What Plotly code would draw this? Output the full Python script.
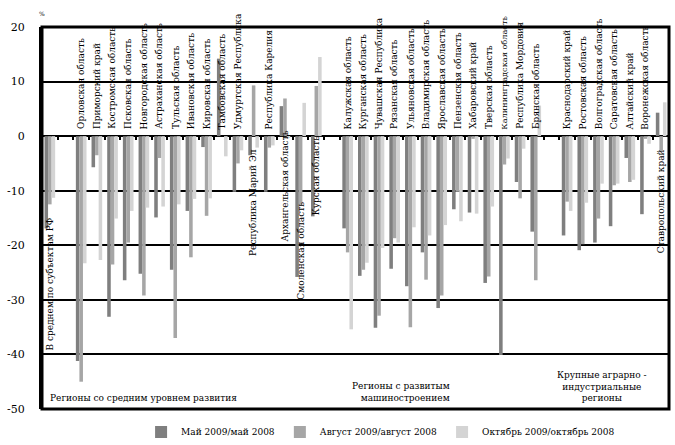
import plotly.graph_objects as go

# ---- data ----
categories = [
    "В среднем по субъектам РФ", " ",
    "Орловская область", "Приморский край", "Костромская область", "Псковская область",
    "Новгородская область", "Астраханская область", "Тульская область", "Ивановская область",
    "Кировская область", "Тамбовская область", "Удмуртская Республика", "Республика Марий Эл",
    "Республика Карелия", "Архангельская область", "Смоленская область", "Курская область",
    "  ",
    "Калужская область", "Курганская область", "Чувашская Республика", "Рязанская область",
    "Ульяновская область", "Владимирская область", "Ярославская область", "Пензенская область",
    "Хабаровский край", "Тверская область", "Калининградская область", "Республика Мордовия",
    "Брянская область",
    "   ",
    "Краснодарский край", "Ростовская область", "Волгоградская область", "Саратовская область",
    "Алтайский край", "Воронежская область", "Ставропольский край",
]

may_2009 = [-16.9, None, -41.2, -5.7, -33.1, -26.4, -25.2, -14.9, -24.5, -13.7, -2.0, 14.2,
            -10.2, -3.5, -10.2, 5.5, -25.8, -14.7, None, -16.9, -25.6, -35.1, -24.3, -27.5,
            -21.3, -31.5, -13.4, -14.0, -26.9, -40.1, -8.4, -17.5, None, -18.2, -20.9, -19.5,
            -16.5, -4.0, -14.3, 4.3]

aug_2009 = [-12.5, None, -45.0, -3.5, -23.5, -19.5, -29.2, -4.0, -37.0, -22.2, -14.6, 0.0,
            -5.0, 9.3, -2.1, 6.9, -12.6, 9.2, None, -21.3, -24.5, -32.9, -18.7, -35.0,
            -26.3, -29.2, -10.2, -0.5, -25.7, -5.2, -11.4, -26.4, None, -12.0, -19.8, -15.1,
            -9.0, -8.4, -0.5, -2.6]

oct_2009 = [-11.3, None, -23.3, -22.7, -15.1, -13.7, -13.1, -12.9, -12.5, -11.5, -11.4, -3.7,
            -2.6, -2.1, -1.7, -0.3, 6.1, 14.5, None, -35.4, -23.2, -20.5, -19.5, -16.7,
            -18.2, -16.3, -15.6, -14.2, -12.9, -4.1, -2.3, 5.6, None, -13.7, -12.2, -8.7,
            -8.7, -8.0, -1.4, 6.2]

series_names = ["Май 2009/май 2008", "Август 2009/август 2008", "Октябрь 2009/октябрь 2008"]
series_colors = ["#7f7f7f", "#a6a6a6", "#d4d4d4"]

label_start = {
    "В среднем по субъектам РФ": -39.6,
    "Республика Марий Эл": -22.3,
    "Архангельская область": -19.6,
    "Смоленская область": -30.4,
    "Курская область": -14.8,
    "Ставропольский край": -21.8,
}
default_label_start = 0.9
label_size = {"Калининградская область": 8.2}

y_tickvals = [20, 10, 0, -10, -20, -30, -40, -50]
y_ticktext = ["20", "10", "0", "-10", "-20", "-30", "-40", "-50"]

group_labels = [
    "Регионы со средним уровнем развития",
    "Регионы с развитым<br>машиностроением",
    "Крупные аграрно -<br>индустриальные<br>регионы",
]

FONT = "DejaVu Serif"
LBL = 9

fig = go.Figure()
for name, vals, col in zip(series_names, [may_2009, aug_2009, oct_2009], series_colors):
    fig.add_trace(go.Bar(x=categories, y=vals, name=name, marker=dict(color=col, line=dict(width=0))))

annotations = []
for cat in categories:
    if not cat.strip():
        continue
    annotations.append(dict(
        x=cat, y=label_start.get(cat, default_label_start), xref="x", yref="y",
        text=cat, textangle=-90, showarrow=False, xanchor="center", yanchor="bottom",
        font=dict(family=FONT, size=label_size.get(cat, LBL), color="black")))

annotations.append(dict(x=0.01, y=0.03, xref="paper", yref="paper", text=group_labels[0],
                        align="left", xanchor="left", yanchor="middle", showarrow=False,
                        font=dict(family=FONT, size=LBL, color="black")))
annotations.append(dict(x=0.654, y=0.045, xref="paper", yref="paper", text=group_labels[1],
                        align="right", xanchor="right", yanchor="middle", showarrow=False,
                        font=dict(family=FONT, size=LBL, color="black")))
annotations.append(dict(x=0.893, y=0.058, xref="paper", yref="paper", text=group_labels[2],
                        align="center", xanchor="center", yanchor="middle", showarrow=False,
                        font=dict(family=FONT, size=LBL, color="black")))
annotations.append(dict(x=0.0, y=1.0, xref="paper", yref="paper", text="%", yshift=8,
                        xanchor="center", yanchor="bottom", showarrow=False,
                        font=dict(family=FONT, size=6, color="black")))

fig.update_layout(
    width=675, height=445,
    margin=dict(l=42, r=6, t=27, b=36, autoexpand=False),
    paper_bgcolor="white", plot_bgcolor="white",
    barmode="group", bargap=0.32, bargroupgap=0,
    font=dict(family=FONT, size=LBL, color="black"),
    showlegend=True,
    legend=dict(orientation="h", x=0.54, y=-0.06, xanchor="center", yanchor="middle",
                font=dict(family=FONT, size=LBL, color="black"), itemwidth=30,
                tracegroupgap=0, bgcolor="rgba(0,0,0,0)"),
    annotations=annotations,
    shapes=[dict(type="rect", xref="paper", yref="paper", x0=0, x1=1, y0=0, y1=1,
                 line=dict(color="black", width=3), layer="above")],
)
fig.update_xaxes(
    type="category", showticklabels=False, showgrid=False, showline=False,
    anchor="free", position=50 / 70, ticks="outside", ticklen=3, tickwidth=2,
    tickcolor="black", tickson="boundaries", range=[-0.5, len(categories) - 0.5],
)
fig.update_yaxes(
    range=[-50, 20], tickvals=y_tickvals, ticktext=y_ticktext, showgrid=True,
    gridcolor="black", gridwidth=2, zeroline=True, zerolinecolor="black", zerolinewidth=1.5,
    showline=True, linecolor="black", linewidth=3, ticks="", ticklabelstandoff=12,
    tickfont=dict(family=FONT, size=11, color="black"),
)

fig.write_html("out.html", config={"displayModeBar": False},
               post_script="document.body.style.margin='0';document.body.style.padding='0';")
